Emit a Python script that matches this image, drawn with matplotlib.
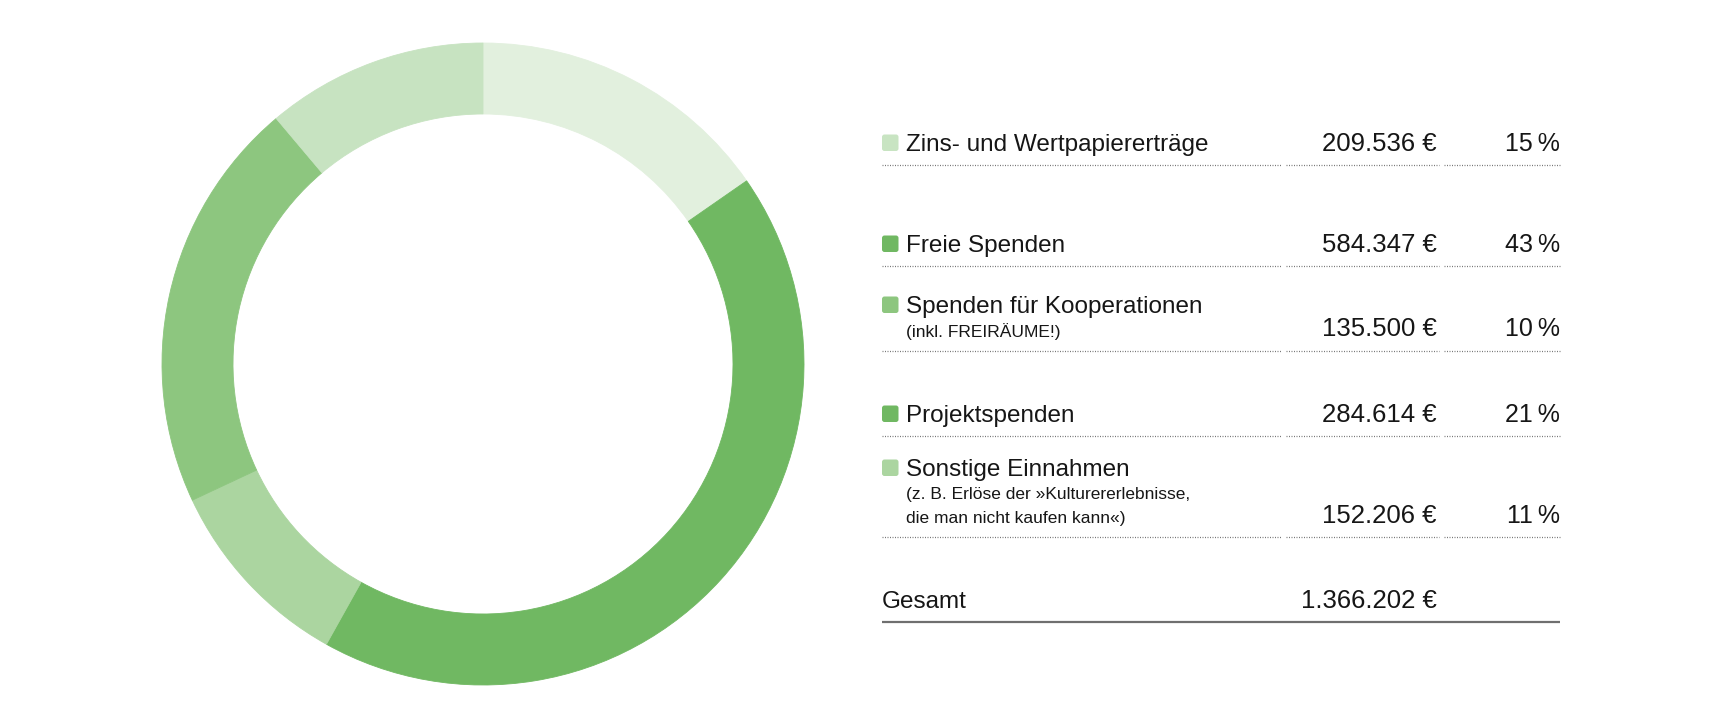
import matplotlib
matplotlib.use("Agg")
import matplotlib.pyplot as plt
from matplotlib.patches import FancyBboxPatch

# data
labels = ["Zins- und Wertpapiererträge", "Freie Spenden", "Spenden für Kooperationen",
          "Projektspenden", "Sonstige Einnahmen"]
notes = ["", "", "(inkl. FREIRÄUME!)", "",
         "(z. B. Erlöse der »Kulturererlebnisse,\ndie man nicht kaufen kann«)"]
amounts = [209536, 584347, 135500, 284614, 152206]
total = 1366202
total_label = "Gesamt"

ring_colors = ["#e2f0de", "#70b862", "#abd5a0", "#8dc67f", "#c7e3c1"]
key_colors = ["#c8e4c2", "#70b862", "#8dc67f", "#70b862", "#abd5a0"]

W, H = 1720, 727
FONT = ["Liberation Sans", "DejaVu Sans"]
TXT = "#161616"


def euro(v):
    return f"{v:,}".replace(",", ".") + " €"


fig = plt.figure(figsize=(W / 100, H / 100), dpi=100)
fig.patch.set_facecolor("white")

# donut
cx, cy, r_out, r_in = 483, 364, 321, 250
ax = fig.add_axes([(cx - r_out) / W, (H - cy - r_out) / H, 2 * r_out / W, 2 * r_out / H])
wedges, _ = ax.pie(amounts, colors=ring_colors, startangle=90, counterclock=False,
                   radius=1, wedgeprops=dict(width=1 - r_in / r_out, linewidth=0.6))
for w in wedges:
    w.set_edgecolor(w.get_facecolor())
ax.set_xlim(-1, 1)
ax.set_ylim(-1, 1)
ax.axis("off")

# table on the right, drawn in pixel coordinates
tx = fig.add_axes([0, 0, 1, 1])
tx.set_xlim(0, W)
tx.set_ylim(H, 0)
tx.axis("off")

x_sq, x_lab, x_val, x_pct = 882, 906, 1437, 1560
segs = [(882, 1281), (1286, 1439), (1444, 1560)]
row_y = [151, 252, 313, 422, 476]
note_step = 23.5

pcts = [round(a / total * 100) for a in amounts]

for i, lab in enumerate(labels):
    y = row_y[i]
    sq = FancyBboxPatch((x_sq, y - 16.5), 16.5, 16.5,
                        boxstyle="round,pad=0,rounding_size=2.5",
                        fc=key_colors[i], ec="none")
    tx.add_patch(sq)
    tx.text(x_lab, y, lab, fontsize=17.5, family=FONT, color=TXT, va="baseline", ha="left")
    n_lines = 0
    if notes[i]:
        for j, line in enumerate(notes[i].split("\n")):
            tx.text(x_lab, y + note_step * (j + 1), line, fontsize=12.5, family=FONT,
                    color=TXT, va="baseline", ha="left")
            n_lines += 1
    yv = y + note_step * n_lines
    tx.text(x_val, yv, euro(amounts[i]), fontsize=18.5, family=FONT, color=TXT,
            va="baseline", ha="right")
    tx.text(x_pct, yv, f"{pcts[i]}\u2009%", fontsize=18, family=FONT, color=TXT,
            va="baseline", ha="right")
    for a, b in segs:
        tx.plot([a, b], [yv + 14, yv + 14], color="#777777", lw=0.9,
                linestyle=(0, (0.8, 1.2)), solid_capstyle="butt")

# total row
tx.text(x_sq, 608, total_label, fontsize=17.5, family=FONT, color=TXT, va="baseline")
tx.text(x_val, 608, euro(total), fontsize=18.5, family=FONT, color=TXT,
        va="baseline", ha="right")
tx.plot([x_sq, x_pct], [622, 622], color="#6f6f6f", lw=1.6, solid_capstyle="butt")

fig.savefig("out.png", dpi=100, facecolor="white")
